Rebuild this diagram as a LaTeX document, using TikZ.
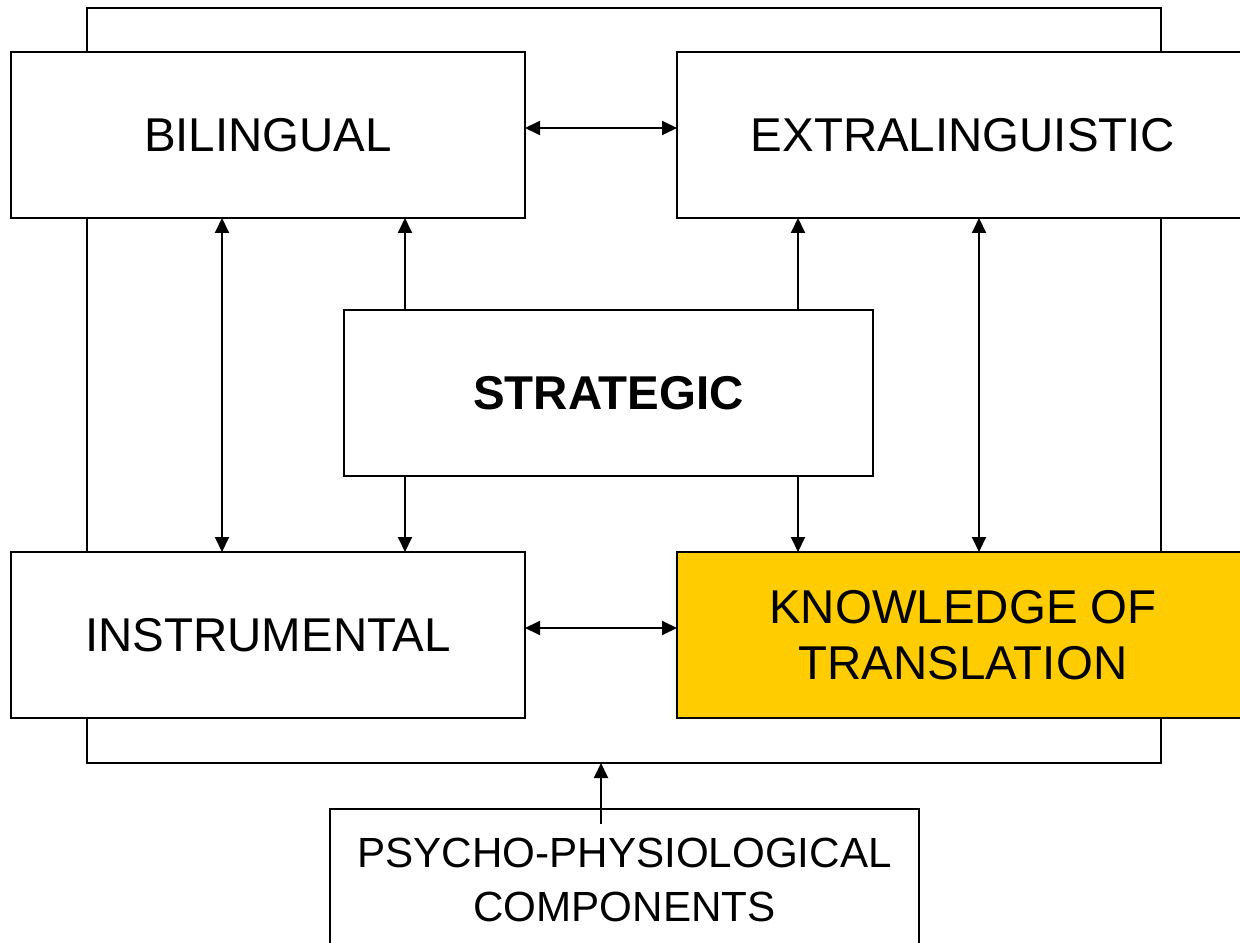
\documentclass[tikz,border=0pt]{standalone}
\usepackage{fontspec}
\setmainfont{Liberation Sans}
\usepackage{tikz}
\usetikzlibrary{positioning,arrows.meta,calc}

\definecolor{ktyellow}{HTML}{FFCC00}

\begin{document}
\begin{tikzpicture}[
    box/.style={rectangle, draw, fill=white, line width=1.1pt, inner sep=0pt, outer sep=0pt,
        minimum width=10.28cm, minimum height=3.32cm, align=center,
        font=\fontsize{27}{31.5}\selectfont},
    widebox/.style={box, minimum width=11.44cm},
    arrow/.style={-{Triangle[length=0.3cm,width=0.28cm]}, line width=1.1pt},
    biarrow/.style={{Triangle[length=0.3cm,width=0.28cm]}-{Triangle[length=0.3cm,width=0.28cm]}, line width=1.1pt}]

    \useasboundingbox (0,0) rectangle (24.8,18.84);
    \clip (0,0) rectangle (24.8,18.84);

    % Frame round the competences
    \node[draw, line width=1.1pt, inner sep=0pt, outer sep=0pt,
        minimum width=21.48cm, minimum height=15.1cm] (frame) at (12.48,11.13) {};

    % Sub-competences
    \node[box] (bilingual) at (5.36,16.14) {BILINGUAL};
    \node[widebox] (extra) at (19.26,16.14) {EXTRALINGUISTIC};
    \node[box, minimum width=10.58cm, font=\fontsize{27}{31.5}\selectfont\bfseries] (strategic) at (12.17,10.98) {STRATEGIC};
    \node[box] (instr) at (5.36,6.14) {INSTRUMENTAL};
    \node[widebox, fill=ktyellow] (knowledge) at (19.26,6.14) {KNOWLEDGE OF\\TRANSLATION};

    % Psycho-physiological components
    \node[box, minimum width=11.78cm, minimum height=2.84cm, font=\fontsize{24}{30.6}\selectfont] (psycho) at (12.49,1.24) {PSYCHO-PHYSIOLOGICAL\\COMPONENTS};

    % Connect with arrows
    \draw[biarrow] ([yshift=0.14cm]bilingual.east) -- ([yshift=0.14cm]extra.west);
    \draw[biarrow] ([yshift=0.14cm]instr.east) -- ([yshift=0.14cm]knowledge.west);
    \draw[biarrow] ([xshift=-0.92cm]bilingual.south) -- ([xshift=-0.92cm]instr.north);
    \draw[biarrow] ([xshift=0.32cm]extra.south) -- ([xshift=0.32cm]knowledge.north);
    \draw[arrow] ([xshift=-4.07cm]strategic.north) -- ([xshift=-4.07cm]strategic.north |- bilingual.south);
    \draw[arrow] ([xshift=3.79cm]strategic.north) -- ([xshift=3.79cm]strategic.north |- extra.south);
    \draw[arrow] ([xshift=-4.07cm]strategic.south) -- ([xshift=-4.07cm]strategic.south |- instr.north);
    \draw[arrow] ([xshift=3.79cm]strategic.south) -- ([xshift=3.79cm]strategic.south |- knowledge.north);

    % Influence on the whole
    \coordinate (pstart) at ([xshift=-0.47cm,yshift=-0.3cm]psycho.north);
    \draw[arrow] (pstart) -- (pstart |- frame.south);
\end{tikzpicture}
\end{document}
